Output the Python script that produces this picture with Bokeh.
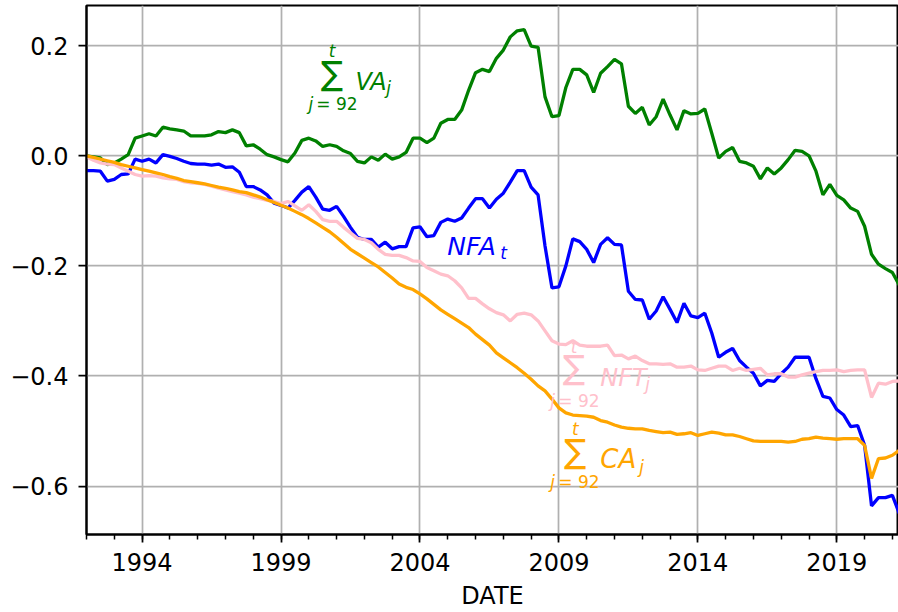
from bokeh.plotting import figure
from bokeh.models import ColumnDataSource, Range1d, FixedTicker, CustomJSTickFormatter
from bokeh.core.properties import value
from bokeh.embed import file_html
from bokeh.resources import INLINE
import pandas as pd

# ---------------- data ----------------
quarters = pd.period_range("1992Q1", "2021Q2", freq="Q")

nfa = [-0.027, -0.027, -0.028, -0.046, -0.043, -0.034, -0.033, -0.006, -0.010, -0.006,
       -0.013, 0.002, -0.001, -0.005, -0.010, -0.014, -0.015, -0.015, -0.017, -0.015,
       -0.021, -0.020, -0.030, -0.056, -0.056, -0.062, -0.071, -0.086, -0.090, -0.095,
       -0.081, -0.066, -0.056, -0.075, -0.097, -0.099, -0.092, -0.110, -0.130, -0.148,
       -0.152, -0.152, -0.166, -0.157, -0.169, -0.165, -0.165, -0.131, -0.129, -0.147,
       -0.145, -0.121, -0.115, -0.119, -0.113, -0.095, -0.078, -0.078, -0.095, -0.079,
       -0.068, -0.048, -0.027, -0.027, -0.057, -0.071, -0.164, -0.240, -0.238, -0.200,
       -0.151, -0.156, -0.170, -0.194, -0.161, -0.149, -0.161, -0.162, -0.246, -0.261,
       -0.262, -0.297, -0.282, -0.256, -0.279, -0.303, -0.268, -0.291, -0.294, -0.286,
       -0.322, -0.366, -0.357, -0.350, -0.372, -0.384, -0.395, -0.418, -0.408, -0.410,
       -0.396, -0.384, -0.366, -0.366, -0.366, -0.405, -0.437, -0.440, -0.461, -0.471,
       -0.492, -0.490, -0.526, -0.636, -0.621, -0.621, -0.617, -0.650]

cum_va = [0.000, -0.002, -0.004, -0.016, -0.013, -0.006, 0.002, 0.032, 0.036, 0.040,
          0.036, 0.052, 0.049, 0.047, 0.045, 0.036, 0.036, 0.036, 0.038, 0.044,
          0.042, 0.047, 0.042, 0.018, 0.020, 0.012, 0.002, -0.002, -0.007, -0.011,
          0.005, 0.028, 0.032, 0.027, 0.017, 0.020, 0.017, 0.009, 0.004, -0.010,
          -0.013, -0.002, -0.008, 0.003, -0.006, -0.002, 0.006, 0.032, 0.032, 0.024,
          0.032, 0.059, 0.066, 0.066, 0.083, 0.119, 0.151, 0.157, 0.153, 0.177,
          0.192, 0.216, 0.227, 0.229, 0.199, 0.197, 0.107, 0.071, 0.073, 0.124,
          0.157, 0.157, 0.147, 0.115, 0.150, 0.162, 0.175, 0.167, 0.090, 0.077,
          0.088, 0.056, 0.071, 0.103, 0.074, 0.047, 0.082, 0.076, 0.077, 0.085,
          0.041, -0.004, 0.008, 0.015, -0.010, -0.013, -0.019, -0.042, -0.022, -0.033,
          -0.022, -0.007, 0.010, 0.008, 0.000, -0.028, -0.071, -0.052, -0.072, -0.080,
          -0.095, -0.101, -0.128, -0.179, -0.197, -0.205, -0.212, -0.235]

cum_nft = [-0.002, -0.008, -0.013, -0.015, -0.016, -0.022, -0.028, -0.034, -0.037, -0.036,
           -0.037, -0.040, -0.042, -0.043, -0.047, -0.049, -0.050, -0.052, -0.055, -0.059,
           -0.062, -0.065, -0.068, -0.071, -0.075, -0.078, -0.081, -0.083, -0.087, -0.083,
           -0.091, -0.099, -0.089, -0.101, -0.116, -0.119, -0.119, -0.130, -0.140, -0.150,
           -0.152, -0.158, -0.170, -0.179, -0.181, -0.181, -0.185, -0.191, -0.192, -0.203,
           -0.209, -0.215, -0.218, -0.227, -0.240, -0.259, -0.259, -0.269, -0.278, -0.285,
           -0.289, -0.300, -0.288, -0.286, -0.289, -0.300, -0.318, -0.336, -0.342, -0.343,
           -0.336, -0.344, -0.346, -0.346, -0.346, -0.344, -0.363, -0.362, -0.369, -0.364,
           -0.372, -0.378, -0.378, -0.379, -0.378, -0.384, -0.384, -0.382, -0.389, -0.390,
           -0.386, -0.382, -0.382, -0.390, -0.386, -0.390, -0.388, -0.386, -0.398, -0.396,
           -0.396, -0.402, -0.402, -0.398, -0.395, -0.392, -0.390, -0.390, -0.389, -0.392,
           -0.390, -0.389, -0.389, -0.439, -0.413, -0.415, -0.410, -0.409]

cum_ca = [0.000, -0.003, -0.006, -0.009, -0.012, -0.016, -0.019, -0.022, -0.025, -0.028,
          -0.031, -0.034, -0.038, -0.041, -0.045, -0.047, -0.049, -0.051, -0.054, -0.057,
          -0.059, -0.062, -0.065, -0.067, -0.071, -0.075, -0.080, -0.085, -0.090, -0.095,
          -0.101, -0.107, -0.114, -0.122, -0.130, -0.138, -0.148, -0.159, -0.170, -0.178,
          -0.186, -0.194, -0.202, -0.212, -0.222, -0.233, -0.239, -0.243, -0.251, -0.260,
          -0.270, -0.280, -0.288, -0.296, -0.304, -0.312, -0.324, -0.334, -0.344, -0.358,
          -0.367, -0.376, -0.385, -0.395, -0.406, -0.418, -0.427, -0.442, -0.458, -0.467,
          -0.471, -0.472, -0.473, -0.475, -0.481, -0.484, -0.489, -0.493, -0.495, -0.496,
          -0.496, -0.499, -0.501, -0.503, -0.502, -0.506, -0.505, -0.503, -0.508, -0.505,
          -0.502, -0.504, -0.507, -0.507, -0.510, -0.514, -0.518, -0.519, -0.519, -0.519,
          -0.519, -0.520, -0.519, -0.515, -0.514, -0.511, -0.513, -0.514, -0.515, -0.514,
          -0.514, -0.514, -0.526, -0.586, -0.550, -0.549, -0.544, -0.535]

x_major = [1994, 1999, 2004, 2009, 2014, 2019]
y_major = [-0.6, -0.4, -0.2, 0.0, 0.2]

# ---------------- figure ----------------
x_dec = [q.year + (q.quarter - 1) / 4 for q in quarters]
src = ColumnDataSource(dict(x=x_dec, nfa=nfa, va=cum_va, nft=cum_nft, ca=cum_ca))

FONT = "DejaVu Sans"
p = figure(width=898, height=612, output_backend="svg", toolbar_location=None,
           x_range=Range1d(1992, 2021.22), y_range=Range1d(-0.688, 0.273),
           min_border_left=86, min_border_right=0, min_border_top=5, min_border_bottom=76,
           background_fill_color="white", border_fill_color="white")
p.outline_line_color = "black"
p.outline_line_width = 2

xt = FixedTicker(ticks=x_major, minor_ticks=list(range(1992, 2022)))
yt = FixedTicker(ticks=y_major, minor_ticks=[])
p.xaxis.ticker = xt
p.yaxis.ticker = yt
p.xgrid.ticker = xt
p.ygrid.ticker = yt
for g in (p.xgrid, p.ygrid):
    g.grid_line_color = "#b0b0b0"
    g.grid_line_width = 1.75

p.xaxis.formatter = CustomJSTickFormatter(code="return tick.toFixed(0);")
p.yaxis.formatter = CustomJSTickFormatter(
    code="return (tick < -1e-9 ? '\u2212' : '') + Math.abs(tick).toFixed(1);")

for ax in (p.xaxis[0], p.yaxis[0]):
    ax.axis_line_color = "black"
    ax.axis_line_width = 2
    ax.major_tick_line_color = "black"
    ax.major_tick_line_width = 1.75
    ax.minor_tick_line_color = "black"
    ax.minor_tick_line_width = 1.5
    ax.major_tick_in = 0
    ax.major_tick_out = 8
    ax.minor_tick_in = 0
    ax.minor_tick_out = 5
    ax.major_label_text_font = FONT
    ax.major_label_text_font_size = "24px"
    ax.major_label_text_color = "black"
p.xaxis.major_label_standoff = 10
p.yaxis.major_label_standoff = 10
p.xaxis.axis_label = "DATE"
p.xaxis.axis_label_text_font = FONT
p.xaxis.axis_label_text_font_size = "24px"
p.xaxis.axis_label_text_font_style = "normal"
p.xaxis.axis_label_text_color = "black"
p.xaxis.axis_label_standoff = 8

LW = 3.3
p.line("x", "nfa", source=src, line_color="blue", line_width=LW)
p.line("x", "va", source=src, line_color="green", line_width=LW)
p.line("x", "nft", source=src, line_color="pink", line_width=LW)
p.line("x", "ca", source=src, line_color="orange", line_width=LW)

# ---------------- math-style annotations ----------------
def txt(x, y, s, color, size, style="italic", align="left", baseline="alphabetic"):
    p.text(x=[x], y=[y], text=[s], text_color=color, text_font=value(FONT),
           text_font_size=value(size), text_font_style=style,
           text_align=align, text_baseline=baseline)

def sum_label(xc, y_t, y_sig, x_j, x_eq, y_low, x_main, y_main, main, main_size,
              x_sub, y_sub, color):
    txt(xc, y_t, "t", color, "17px", align="center", baseline="middle")
    txt(xc, y_sig, "\u2211", color, "33px", style="normal", align="center", baseline="middle")
    txt(x_j, y_low, "j", color, "17px")
    txt(x_eq, y_low, "= 92", color, "17px", style="normal")
    txt(x_main, y_main, main, color, main_size)
    txt(x_sub, y_sub, "j", color, "17px")

sum_label(2000.84, 0.191, 0.1495, 1999.99, 2000.27, 0.0934,
          2001.68, 0.1340, "VA", "24px", 2002.79, 0.1223, "green")
sum_label(2009.55, -0.348, -0.3844, 2008.69, 2008.98, -0.4460,
          2010.49, -0.4031, "NFT", "24px", 2012.11, -0.4152, "pink")
sum_label(2009.59, -0.4959, -0.5365, 2008.69, 2008.98, -0.5926,
          2010.49, -0.5515, "CA", "26px", 2011.89, -0.5655, "orange")
txt(2004.98, -0.1642, "NFA", "blue", "25px")
txt(2006.89, -0.1763, "t", "blue", "17px")

open("out.html", "w").write(file_html(p, INLINE))
